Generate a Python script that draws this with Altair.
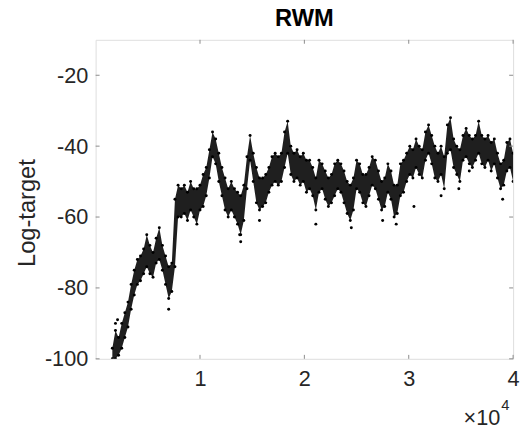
import altair as alt
import pandas as pd

# ---------------- data ----------------
title_text = "RWM"
y_label = "Log-target"

iterations = [
    1600, 1900, 2200, 2500, 2800, 3100, 3400, 3700, 4000, 4300,
    4600, 4900, 5200, 5500, 5800, 6100, 6400, 6700, 7000, 7300,
    7600, 7900, 8200, 8500, 8800, 9100, 9400, 9700, 10000, 10300,
    10600, 10900, 11200, 11500, 11800, 12100, 12400, 12700, 13000, 13300,
    13600, 13900, 14200, 14500, 14800, 15100, 15400, 15700, 16000, 16300,
    16600, 16900, 17200, 17500, 17800, 18100, 18400, 18700, 19000, 19300,
    19600, 19900, 20200, 20500, 20800, 21100, 21400, 21700, 22000, 22300,
    22600, 22900, 23200, 23500, 23800, 24100, 24400, 24700, 25000, 25300,
    25600, 25900, 26200, 26500, 26800, 27100, 27400, 27700, 28000, 28300,
    28600, 28900, 29200, 29500, 29800, 30100, 30400, 30700, 31000, 31300,
    31600, 31900, 32200, 32500, 32800, 33100, 33400, 33700, 34000, 34300,
    34600, 34900, 35200, 35500, 35800, 36100, 36400, 36700, 37000, 37300,
    37600, 37900, 38200, 38500, 38800, 39100, 39400, 39700, 40000,
]

band_low = [
    -100, -100, -99, -97, -94, -91, -86, -82, -79, -78,
    -76, -74, -76, -77, -73, -72, -75, -79, -83, -81,
    -74, -60, -60, -59, -61, -58, -60, -62, -58, -57,
    -54, -49, -43, -45, -50, -54, -58, -60, -58, -60,
    -62, -65, -61, -52, -44, -50, -56, -58, -57, -56,
    -53, -51, -50, -51, -50, -46, -42, -48, -50, -49,
    -51, -50, -53, -52, -54, -58, -53, -52, -55, -57,
    -56, -54, -52, -53, -56, -59, -61, -58, -52, -53,
    -56, -57, -54, -51, -52, -55, -58, -57, -53, -55,
    -60, -59, -54, -53, -50, -48, -49, -46, -48, -49,
    -44, -42, -45, -49, -50, -48, -52, -42, -41, -46,
    -48, -50, -44, -43, -45, -46, -44, -42, -45, -46,
    -44, -47, -45, -49, -52, -51, -47, -46, -50,
]

band_high = [
    -97, -92, -94, -90, -87, -84, -79, -75, -72, -71,
    -69, -65, -68, -70, -66, -63, -68, -71, -74, -73,
    -55, -51, -52, -51, -53, -50, -52, -52, -51, -48,
    -46, -41, -36, -38, -42, -46, -49, -52, -50, -52,
    -53, -54, -51, -43, -37, -42, -46, -49, -49, -48,
    -46, -43, -42, -43, -42, -36, -33, -40, -42, -41,
    -43, -42, -44, -44, -46, -49, -44, -45, -47, -49,
    -48, -45, -44, -45, -47, -50, -51, -49, -44, -45,
    -48, -48, -46, -43, -44, -47, -50, -49, -45, -47,
    -51, -51, -45, -44, -42, -40, -41, -38, -40, -41,
    -36, -34, -37, -40, -42, -40, -43, -34, -32, -38,
    -40, -41, -37, -35, -37, -38, -37, -33, -37, -38,
    -37, -39, -38, -42, -45, -44, -39, -38, -42,
]

stray_iter = [1900, 2100, 7000, 13800, 13900, 15700, 21100, 24500,
              27500, 28800, 30500, 33100, 34800, 35800, 39000]
stray_val = [-90, -89, -86, -65, -67, -61, -62, -63,
             -61, -62, -57, -54, -52, -47, -55]

x_ticks = [10000, 20000, 30000, 40000]
y_ticks = [-100, -80, -60, -40, -20]

# ---------------- styling ----------------
W, H = 424, 324
FONT = "Liberation Sans"
GRAY = "#8a8a8a"
TXT = "#262626"

band = pd.DataFrame({"it": iterations, "lo": band_low, "hi": band_high})
edges = pd.concat([
    pd.DataFrame({"it": iterations, "v": band_low}),
    pd.DataFrame({"it": iterations, "v": band_high}),
])
stray = pd.DataFrame({"it": stray_iter, "v": stray_val})

xs = alt.Scale(domain=[0, 40000], nice=False, zero=False)
ys = alt.Scale(domain=[-100, -10], nice=False, zero=False)

x_axis = alt.Axis(
    values=x_ticks, labelExpr="'' + (datum.value / 10000)", ticks=False, domain=False,
    grid=False, labelFontSize=22, labelFont=FONT, labelColor=TXT,
    labelPadding=10, labelFlush=False, title=None)
y_axis = alt.Axis(
    values=y_ticks, labelExpr="'' + datum.value", ticks=False, domain=False,
    grid=False, labelFontSize=22, labelFont=FONT, labelColor=TXT,
    labelPadding=8, labelFlush=False, title=None)

area = alt.Chart(band).mark_area(color="black", opacity=0.88, clip=True).encode(
    x=alt.X("it:Q", scale=xs, axis=x_axis),
    y=alt.Y("lo:Q", scale=ys, axis=y_axis),
    y2="hi:Q",
)

edge_pts = alt.Chart(edges).mark_circle(color="black", size=9, opacity=1, clip=True).encode(
    x=alt.X("it:Q", scale=xs, axis=x_axis),
    y=alt.Y("v:Q", scale=ys, axis=y_axis),
)

stray_pts = alt.Chart(stray).mark_circle(color="black", size=9, opacity=1, clip=True).encode(
    x=alt.X("it:Q", scale=xs, axis=x_axis),
    y=alt.Y("v:Q", scale=ys, axis=y_axis),
)

xt = pd.DataFrame({"t": x_ticks})
yt = pd.DataFrame({"t": y_ticks})
tick_bottom = alt.Chart(xt).mark_rule(color=GRAY).encode(
    x=alt.X("t:Q", scale=xs, axis=x_axis), y=alt.value(H), y2=alt.value(H - 4))
tick_top = alt.Chart(xt).mark_rule(color=GRAY).encode(
    x=alt.X("t:Q", scale=xs, axis=x_axis), y=alt.value(0), y2=alt.value(4))
tick_left = alt.Chart(yt).mark_rule(color=GRAY).encode(
    y=alt.Y("t:Q", scale=ys, axis=y_axis), x=alt.value(0), x2=alt.value(4))
tick_right = alt.Chart(yt).mark_rule(color=GRAY).encode(
    y=alt.Y("t:Q", scale=ys, axis=y_axis), x=alt.value(W), x2=alt.value(W - 4))

title = alt.Chart(pd.DataFrame({"s": [title_text]})).mark_text(
    font=FONT, fontSize=24, fontWeight="bold", color="black",
    align="center", baseline="middle").encode(
    text="s:N", x=alt.value(W / 2), y=alt.value(-21))

ylab = alt.Chart(pd.DataFrame({"s": [y_label]})).mark_text(
    font=FONT, fontSize=24, color=TXT, angle=270,
    align="center", baseline="middle").encode(
    text="s:N", x=alt.value(-69), y=alt.value(176))

mult = alt.Chart(pd.DataFrame({"s": ["\u00d710"]})).mark_text(
    font=FONT, fontSize=22, color=TXT, align="right", baseline="alphabetic").encode(
    text="s:N", x=alt.value(411), y=alt.value(391))
expo = alt.Chart(pd.DataFrame({"s": ["4"]})).mark_text(
    font=FONT, fontSize=15, color=TXT, align="left", baseline="alphabetic").encode(
    text="s:N", x=alt.value(412), y=alt.value(376))

chart = alt.layer(
    area, edge_pts, stray_pts, tick_bottom, tick_top, tick_left, tick_right,
    title, ylab, mult, expo,
).properties(
    width=W, height=H,
    autosize=alt.AutoSizeParams(type="none"),
    padding={"left": 89, "top": 29, "right": 7, "bottom": 70},
).configure_view(stroke=GRAY, strokeWidth=1).configure(background="white")

chart.save("out.html", embed_options={"renderer": "svg", "actions": False})
